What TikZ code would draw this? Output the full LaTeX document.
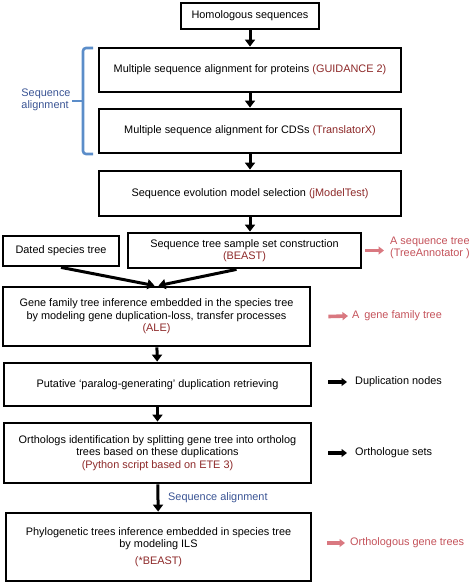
\documentclass[tikz,border=0pt]{standalone}
\usepackage{fontspec}
\setmainfont{Liberation Sans}
\usetikzlibrary{arrows.meta}
\definecolor{toolred}{HTML}{8E2A2A}
\definecolor{outred}{HTML}{C4525A}
\definecolor{arrred}{HTML}{D97880}
\definecolor{labblue}{HTML}{3A5494}
\definecolor{braceblue}{HTML}{5B8DC9}
\newcommand{\tool}[1]{\textcolor{toolred}{#1}}

\begin{document}
\begin{tikzpicture}[x=1pt,y=-1pt,
  font=\fontsize{10.9}{12.5}\selectfont,
  step box/.style={draw,line width=2.8pt,fill=white,align=center,inner sep=2pt},
  main arrow/.style={line width=3pt,-{Triangle[width=10pt,length=7pt]}},
  side arrow/.style={line width=3.6pt,-{Triangle[width=8pt,length=5.5pt]}},
  out text/.style={anchor=west,align=left,inner sep=1pt,font=\fontsize{10.9}{11.8}\selectfont}]

  \useasboundingbox (0,0) rectangle (470,583);

  \node[step box,minimum width=138pt,minimum height=26pt] (hom) at (250,16) {Homologous sequences};
  \node[step box,minimum width=302pt,minimum height=44pt] (prot) at (250,70) {Multiple sequence alignment for proteins \tool{(GUIDANCE 2)}};
  \node[step box,minimum width=302pt,minimum height=44pt] (cds) at (250,131) {Multiple sequence alignment for CDSs \tool{(TranslatorX)}};
  \node[step box,minimum width=302pt,minimum height=45pt] (model) at (250,193.5) {Sequence evolution model selection \tool{(jModelTest)}};
  \node[step box,minimum width=233pt,minimum height=35pt] (beast) at (244.5,250.5) {Sequence tree sample set construction\\\tool{(BEAST)}};
  \node[step box,minimum width=116pt,minimum height=30pt] (dated) at (61,251) {Dated species tree};
  \node[step box,minimum width=307pt,minimum height=59pt] (ale) at (156.5,316.5) {Gene family tree inference embedded in the species tree\\by modeling gene duplication-loss, transfer processes\\\tool{(ALE)}};
  \node[step box,minimum width=307pt,minimum height=43pt] (para) at (157.5,384.5) {Putative `paralog-generating' duplication retrieving};
  \node[step box,minimum width=307pt,minimum height=60pt] (orth) at (157.5,453) {Orthologs identification by splitting gene tree into ortholog\\trees based on these duplications\\\tool{(Python script based on ETE 3)}};
  \node[step box,minimum width=305pt,minimum height=68pt] (star) at (158.5,547) {Phylogenetic trees inference embedded in species tree\\by modeling ILS\\[4pt]\tool{(*BEAST)}};

  \node[out text,text=outred] (seqtree) at (389,248) {A sequence tree\\(TreeAnnotator )};
  \node[out text,text=outred] (gftree) at (351,316) {A\, gene family tree};
  \node[out text] (dupl) at (354,382) {Duplication nodes};
  \node[out text] (oset) at (354,453) {Orthologue sets};
  \node[out text,text=outred] (ogt) at (349,543) {Orthologous gene trees};

  \node[text=labblue,align=left,inner sep=0pt,font=\fontsize{10.9}{12.5}\selectfont] (salign) at (46,100) {Sequence\\alignment};
  \node[text=labblue,anchor=west,inner sep=0pt] (salign2) at (168,498) {Sequence alignment};

  \draw[braceblue,line width=2.6pt,rounded corners=3pt] (93,48) -| (83,101) |- (93,154);
  \draw[braceblue,line width=2.6pt] (83,101) -- (72,101);

  \draw[main arrow] (hom) -- (prot);
  \draw[main arrow] (prot) -- (cds);
  \draw[main arrow] (cds) -- (model);
  \draw[main arrow] (model.south) -- (model.south |- beast.north);
  \draw[main arrow] (dated.south) -- ([xshift=-2pt]ale.north);
  \draw[main arrow] ([xshift=-8pt]beast.south) -- ([xshift=2pt]ale.north);
  \draw[main arrow] (ale) -- (para);
  \draw[main arrow] (para) -- (orth);
  \draw[main arrow] (orth) -- (star);

  \draw[side arrow,arrred] ([xshift=3pt]beast.east) -- ([xshift=-5pt]seqtree.west |- beast.east);
  \draw[side arrow,arrred] ([xshift=17pt]ale.east) -- ([xshift=-3pt]gftree.west);
  \draw[side arrow] ([xshift=16pt]para.east |- dupl.west) -- ([xshift=-7pt]dupl.west);
  \draw[side arrow] ([xshift=16pt]orth.east |- oset.west) -- ([xshift=-7pt]oset.west);
  \draw[side arrow,arrred] ([xshift=15pt]star.east |- ogt.west) -- ([xshift=-4pt]ogt.west);
\end{tikzpicture}
\end{document}
